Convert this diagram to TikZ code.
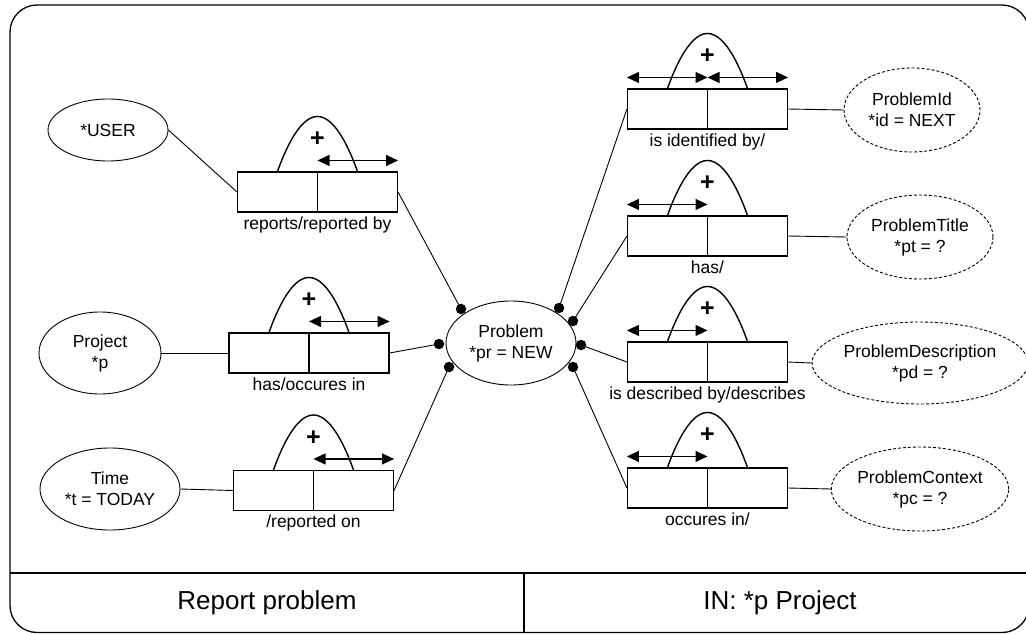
\documentclass[tikz,border=0pt]{standalone}
\usepackage{fontspec}
\setmainfont{Liberation Sans}
\usetikzlibrary{shapes.geometric,arrows.meta,calc}

\tikzset{
  txt/.style={font=\fontsize{17.5}{21}\selectfont, align=center},
  bigtxt/.style={font=\fontsize{26}{30}\selectfont},
  entity/.style={draw, ellipse, line width=0.9pt, inner sep=0pt, txt},
  attr/.style={entity, dash pattern=on 3pt off 2pt},
  relbox/.style={draw, rectangle, line width=1.1pt, minimum width=160pt, minimum height=40pt, inner sep=0pt},
  arch/.style={line width=1.4pt},
  plus/.style={font=\fontsize{25}{25}\selectfont\bfseries, inner sep=0pt},
  rellabel/.style={txt, inner sep=0pt, anchor=base},
  link/.style={line width=0.9pt},
  dot/.style={circle, fill=black, minimum size=10.5pt, inner sep=0pt},
  role/.style={line width=1.1pt, {Triangle[length=12pt,width=11pt]}-{Triangle[length=12pt,width=11pt]}},
}

% relation box: name, centre x, centre y, label
\newcommand\relation[4]{%
  \node[relbox] (#1) at (#2,#3) {};
  \draw[line width=1.1pt] (#1.north) -- (#1.south);
  \draw[arch] ($(#1.north)+(-40,0)$) parabola bend ($(#1.north)+(0,-55)$) ($(#1.north)+(40,0)$);
  \node[plus] (#1-plus) at ($(#1.north)+(0,-32)$) {+};
  \node[rellabel] (#1-label) at ($(#1.south)+(0,16.5)$) {#4};
  \coordinate (#1-al) at ($(#1.north west)+(0,-11)$);
  \coordinate (#1-am) at ($(#1.north)+(0,-11)$);
  \coordinate (#1-ar) at ($(#1.north east)+(0,-11)$);
}

\begin{document}
\begin{tikzpicture}[x=1pt, y=-1pt]
\useasboundingbox (0,0) rectangle (1026,634);
\clip (0,0) rectangle (1026,634);

% outer frame with footer
\draw[line width=1.3pt, rounded corners=27pt] (10,5) rectangle (1029,632.5);
\coordinate (fl) at (10,573);
\coordinate (fr) at (1029,573);
\coordinate (dt) at (524,573);
\coordinate (db) at (524,632.5);
\draw[line width=1.3pt] (fl) -- (fr);
\draw[line width=1.3pt] (dt) -- (db);
\node[bigtxt] (title) at (267,603) {Report problem};
\node[bigtxt] (input) at (780,603) {IN: *p Project};

% central entity
\node[entity, minimum width=130pt, minimum height=84pt] (problem) at (511,343) {Problem\\*pr = NEW};

% left entities
\node[entity, minimum width=120pt, minimum height=62pt] (user) at (108,130) {*USER};
\node[entity, minimum width=122pt, minimum height=82pt] (project) at (100,353) {Project\\*p};
\node[entity, minimum width=140pt, minimum height=82pt] (time) at (110,489) {Time\\*t = TODAY};

% right attributes
\node[attr, minimum width=136pt, minimum height=84pt] (pid) at (912,110) {ProblemId\\*id = NEXT};
\node[attr, minimum width=146pt, minimum height=84pt] (ptitle) at (920,237) {ProblemTitle\\*pt = ?};
\node[attr, minimum width=202pt, minimum height=82pt] (pdesc) at (920,363) {ProblemDescription\\*pd = ?};
\node[attr, minimum width=172pt, minimum height=84pt] (pctx) at (920,489) {ProblemContext\\*pc = ?};

% relations
\relation{rep}{317.5}{192}{reports/reported by}
\relation{occ}{309}{353}{has/occures in}
\relation{ron}{313.5}{490.5}{/reported on}
\relation{ident}{707.5}{109}{is identified by/}
\relation{has}{707.5}{236}{has/}
\relation{desc}{707.5}{362}{is described by/describes}
\relation{ctx}{707.5}{488}{occures in/}

% role arrows
\draw[role] (rep-am) -- (rep-ar);
\draw[role] (occ-am) -- (occ-ar);
\draw[role] (ron-am) -- (ron-ar);
\draw[role] (ident-al) -- (ident-am);
\draw[role] (ident-am) -- (ident-ar);
\draw[role] (has-al) -- (has-am);
\draw[role] (desc-al) -- (desc-am);
\draw[role] (ctx-al) -- (ctx-am);

% attachment dots on the central entity
\node[dot] (d1) at (461,309) {};
\node[dot] (d2) at (439,344) {};
\node[dot] (d3) at (449,367) {};
\node[dot] (d4) at (559,308) {};
\node[dot] (d5) at (573,321) {};
\node[dot] (d6) at (581,345) {};
\node[dot] (d7) at (573,367) {};

% connectors
\draw[link] (user.east) -- (rep.west);
\draw[link] (project.east) -- (occ.west);
\draw[link] (time.east) -- (ron.west);
\draw[link] (rep.east) -- (d1.center);
\draw[link] (occ.east) -- (d2.center);
\draw[link] (ron.east) -- (d3.center);
\draw[link] (d4.center) -- (ident.west);
\draw[link] (d5.center) -- (has.west);
\draw[link] (d6.center) -- (desc.west);
\draw[link] (d7.center) -- (ctx.west);
\draw[link] (ident.east) -- (pid.west);
\draw[link] (has.east) -- (ptitle.west);
\draw[link] (desc.east) -- (pdesc.west);
\draw[link] (ctx.east) -- (pctx.west);
\end{tikzpicture}
\end{document}
